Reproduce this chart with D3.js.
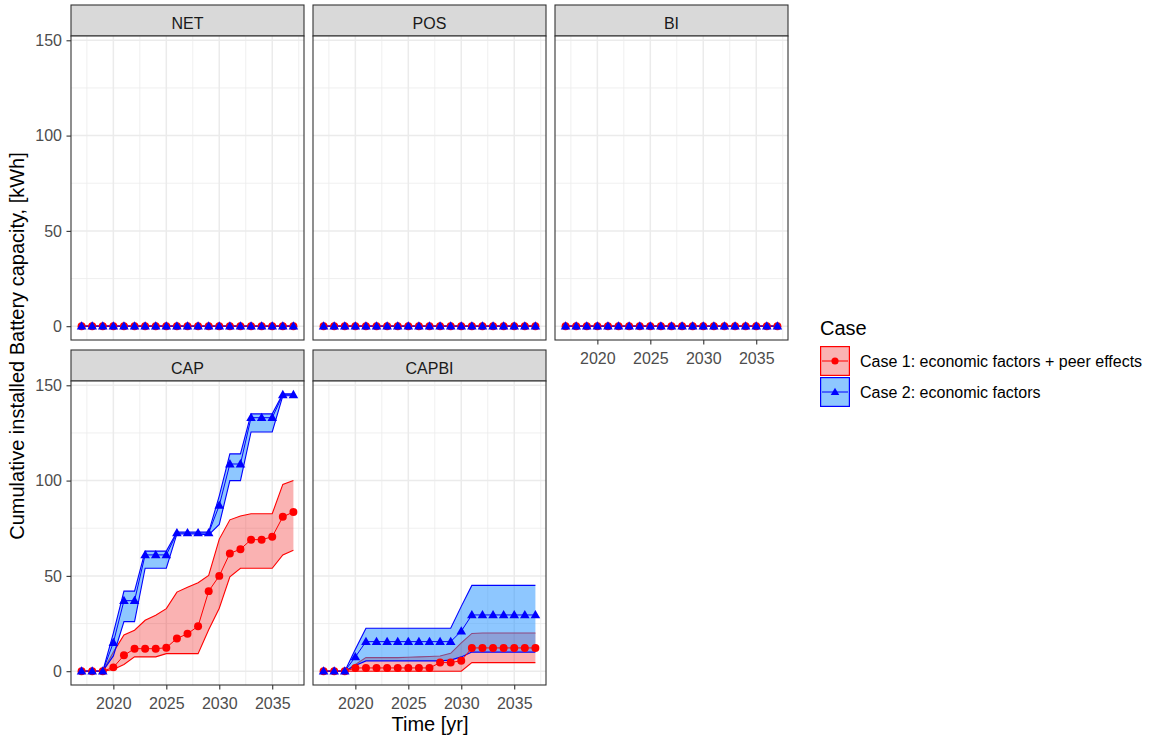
<!DOCTYPE html>
<html>
<head>
<meta charset="utf-8">
<script src="https://cdn.jsdelivr.net/npm/d3@7"></script>
<style>
  body { margin: 0; background: #ffffff; }
  svg { display: block; font-family: "Liberation Sans", Arial, Helvetica, sans-serif; }
</style>
</head>
<body>
<svg id="chart" width="1159" height="738"></svg>
<script>
// ---- data ----
const years = [2017, 2018, 2019, 2020, 2021, 2022, 2023, 2024, 2025, 2026, 2027,
               2028, 2029, 2030, 2031, 2032, 2033, 2034, 2035, 2036, 2037];
const panelNames = ["NET", "POS", "BI", "CAP", "CAPBI"];
const caseLabels = ["Case 1: economic factors + peer effects", "Case 2: economic factors"];
const xTickValues = [2020, 2025, 2030, 2035];
const yTickValues = [0, 50, 100, 150];
const xMinorValues = [2017.5, 2022.5, 2027.5, 2032.5, 2037.5];
const yMinorValues = [25, 75, 125];

// NET, POS and BI stay at zero for both cases
const zeroSeries = [0, 0, 0, 0, 0, 0, 0, 0, 0, 0, 0, 0, 0, 0, 0, 0, 0, 0, 0, 0, 0];

// CAP, case 1 (economic factors + peer effects)
const capCase1Mean  = [0, 0, 0, 2, 8.3, 11.8, 11.8, 11.8, 12.3, 17.2, 19.6, 23.6, 42, 50, 61.8, 64, 69, 69, 70.5, 81, 83.5];
const capCase1Lower = [0, 0, 0, 0.9, 3.5, 7.5, 7.5, 7.5, 9.2, 9.2, 9.2, 9.2, 21.7, 33, 49.5, 54, 54, 54, 54, 61, 63.5];
const capCase1Upper = [0, 0, 0, 10, 19, 21.5, 26.7, 29.3, 32.8, 41.5, 44, 46.4, 50.2, 69.3, 79.4, 81.4, 82.6, 82.6, 82.6, 98, 100];
// CAP, case 2 (economic factors)
const capCase2Mean  = [0, 0, 0, 15, 37, 37, 61, 61, 61, 72.5, 72.5, 72.5, 72.5, 87, 108.7, 108.7, 133, 133, 133, 145, 145];
const capCase2Lower = [0, 0, 0, 8, 26, 26, 54, 54, 54, 72, 72, 72, 71.5, 77, 100, 100, 125.5, 125.5, 125.5, 144.5, 144.5];
const capCase2Upper = [0, 0, 0, 20, 42, 42, 63, 63, 63, 73, 73, 73, 73, 92, 114, 114, 135, 135, 135, 145.5, 145.5];

// CAPBI, case 1
const capbiCase1Mean  = [0, 0, 0, 1.7, 1.7, 1.7, 1.7, 1.7, 1.7, 1.7, 1.7, 4.5, 4.5, 5.5, 12.2, 12.2, 12.2, 12.2, 12.2, 12.2, 12.2];
const capbiCase1Lower = [0, 0, 0, 0, 0, 0, 0, 0, 0, 0, 0, 0, 0, 0, 4.5, 4.5, 4.5, 4.5, 4.5, 4.5, 4.5];
const capbiCase1Upper = [0, 0, 0, 3.5, 7.1, 7.1, 7.1, 7.1, 7.3, 7.5, 7.7, 8, 9.4, 14.9, 19.8, 20, 20, 20, 20, 20, 20];
// CAPBI, case 2
const capbiCase2Mean  = [0, 0, 0, 7.5, 15.5, 15.5, 15.5, 15.5, 15.5, 15.5, 15.5, 15.5, 15.5, 21, 29.5, 29.5, 29.5, 29.5, 29.5, 29.5, 29.5];
const capbiCase2Lower = [0, 0, 0, 3, 5.4, 5.4, 5.4, 5.4, 5.4, 5.4, 5.4, 5.4, 5.8, 7.5, 10, 10, 10, 10, 10, 10, 10];
const capbiCase2Upper = [0, 0, 0, 11.5, 22.5, 22.5, 22.5, 22.5, 22.5, 22.5, 22.5, 22.5, 22.5, 34, 45, 45, 45, 45, 45, 45, 45];

// per-panel lookup: [case 1, case 2], each {mean, lower, upper}
const zeroCase = { mean: zeroSeries, lower: zeroSeries, upper: zeroSeries };
const panelSeries = {
  NET: [zeroCase, zeroCase],
  POS: [zeroCase, zeroCase],
  BI:  [zeroCase, zeroCase],
  CAP: [
    { mean: capCase1Mean, lower: capCase1Lower, upper: capCase1Upper },
    { mean: capCase2Mean, lower: capCase2Lower, upper: capCase2Upper }
  ],
  CAPBI: [
    { mean: capbiCase1Mean, lower: capbiCase1Lower, upper: capbiCase1Upper },
    { mean: capbiCase2Mean, lower: capbiCase2Lower, upper: capbiCase2Upper }
  ]
};

// ---- styling ----
const caseStyle = [
  { line: "#ff0000", fill: "rgba(240,0,0,0.3)", symbol: d3.symbolCircle, size: 50 },
  { line: "#0000ff", fill: "rgba(30,144,255,0.5)", symbol: d3.symbolTriangle, size: 40 }
];

// ---- layout ----
const colX = [71, 313, 555];
const stripTop = [5, 350];
const stripH = 31;
const panelW = 233;
const panelH = 304;

const x = d3.scaleLinear().domain([2016, 2038]).range([0, panelW]);
const y = d3.scaleLinear().domain([-7.25, 152.25]).range([panelH, 0]);

const svg = d3.select("#chart");
svg.append("rect").attr("width", 1159).attr("height", 738).attr("fill", "#ffffff");

const gridColor = "#ebebeb";
const borderColor = "#333333";
const tickTextColor = "#4d4d4d";

panelNames.forEach((name, i) => {
  const col = i % 3;
  const row = Math.floor(i / 3);
  const px = colX[col];
  const sTop = stripTop[row];
  const pTop = sTop + stripH;

  // strip
  const strip = svg.append("g").attr("transform", `translate(${px},${sTop})`);
  strip.append("rect")
    .attr("width", panelW).attr("height", stripH)
    .attr("fill", "#d9d9d9").attr("stroke", borderColor).attr("stroke-width", 1.1);
  strip.append("text")
    .attr("x", panelW / 2).attr("y", 23.5)
    .attr("text-anchor", "middle")
    .attr("font-size", 16).attr("fill", "#1a1a1a")
    .text(name);

  const g = svg.append("g").attr("transform", `translate(${px},${pTop})`);
  g.append("rect").attr("width", panelW).attr("height", panelH).attr("fill", "#ffffff");

  // grid
  g.selectAll(".gx-minor").data(xMinorValues).enter().append("line")
    .attr("x1", d => x(d)).attr("x2", d => x(d)).attr("y1", 0).attr("y2", panelH)
    .attr("stroke", gridColor).attr("stroke-width", 0.8);
  g.selectAll(".gy-minor").data(yMinorValues).enter().append("line")
    .attr("y1", d => y(d)).attr("y2", d => y(d)).attr("x1", 0).attr("x2", panelW)
    .attr("stroke", gridColor).attr("stroke-width", 0.8);
  g.selectAll(".gx-major").data(xTickValues).enter().append("line")
    .attr("x1", d => x(d)).attr("x2", d => x(d)).attr("y1", 0).attr("y2", panelH)
    .attr("stroke", gridColor).attr("stroke-width", 1.5);
  g.selectAll(".gy-major").data(yTickValues).enter().append("line")
    .attr("y1", d => y(d)).attr("y2", d => y(d)).attr("x1", 0).attr("x2", panelW)
    .attr("stroke", gridColor).attr("stroke-width", 1.5);

  const series = panelSeries[name];

  // ribbons: fill then upper/lower outline, one case after the other
  series.forEach((s, k) => {
    const st = caseStyle[k];
    const pts = years.map((yr, j) => ({ yr, lo: s.lower[j], hi: s.upper[j] }));
    g.append("path")
      .attr("d", d3.area().x(d => x(d.yr)).y0(d => y(d.lo)).y1(d => y(d.hi))(pts))
      .attr("fill", st.fill).attr("stroke", "none");
    g.append("path")
      .attr("d", d3.line().x(d => x(d.yr)).y(d => y(d.hi))(pts))
      .attr("fill", "none").attr("stroke", st.line).attr("stroke-width", 1.1);
    g.append("path")
      .attr("d", d3.line().x(d => x(d.yr)).y(d => y(d.lo))(pts))
      .attr("fill", "none").attr("stroke", st.line).attr("stroke-width", 1.1);
  });

  // mean lines
  series.forEach((s, k) => {
    const pts = years.map((yr, j) => ({ yr, v: s.mean[j] }));
    g.append("path")
      .attr("d", d3.line().x(d => x(d.yr)).y(d => y(d.v))(pts))
      .attr("fill", "none").attr("stroke", caseStyle[k].line).attr("stroke-width", 1);
  });

  // points
  series.forEach((s, k) => {
    const st = caseStyle[k];
    const pts = years.map((yr, j) => ({ yr, v: s.mean[j] }));
    g.selectAll(null).data(pts).enter().append("path")
      .attr("transform", d => `translate(${x(d.yr)},${y(d.v) + (k === 1 ? 0.6 : 0)})`)
      .attr("d", d3.symbol().type(st.symbol).size(st.size))
      .attr("fill", st.line);
  });

  // panel border
  g.append("rect")
    .attr("width", panelW).attr("height", panelH)
    .attr("fill", "none").attr("stroke", borderColor).attr("stroke-width", 1.1);

  // y axis on the left column
  if (col === 0) {
    const ay = g.append("g").call(
      d3.axisLeft(y).tickValues(yTickValues).tickSize(4.5).tickPadding(4.5).tickFormat(d3.format("d"))
    );
    ay.select(".domain").remove();
    ay.selectAll(".tick line").attr("stroke", borderColor).attr("stroke-width", 1.1);
    ay.selectAll(".tick text")
      .attr("fill", tickTextColor).attr("font-size", 16)
      .attr("font-family", "'Liberation Sans', Arial, sans-serif");
  }

  // x axis on panels with nothing below
  if (row === 1 || name === "BI") {
    const ax = g.append("g").attr("transform", `translate(0,${panelH})`).call(
      d3.axisBottom(x).tickValues(xTickValues).tickSize(4.5).tickPadding(8).tickFormat(d3.format("d"))
    );
    ax.select(".domain").remove();
    ax.selectAll(".tick line").attr("stroke", borderColor).attr("stroke-width", 1.1);
    ax.selectAll(".tick text")
      .attr("fill", tickTextColor).attr("font-size", 16)
      .attr("font-family", "'Liberation Sans', Arial, sans-serif");
  }
});

// axis titles
svg.append("text")
  .attr("x", 430).attr("y", 731)
  .attr("text-anchor", "middle").attr("font-size", 20).attr("fill", "#000000")
  .text("Time [yr]");

svg.append("text")
  .attr("transform", "translate(24,346) rotate(-90)")
  .attr("text-anchor", "middle").attr("font-size", 20).attr("fill", "#000000")
  .text("Cumulative installed Battery capacity, [kWh]");

// legend
const legend = svg.append("g").attr("transform", "translate(820,0)");
legend.append("text")
  .attr("x", 0).attr("y", 335)
  .attr("font-size", 20).attr("fill", "#000000")
  .text("Case");

const keyTop = [346, 377];
const keyW = 30, keyH = 30;
caseLabels.forEach((label, k) => {
  const st = caseStyle[k];
  const kg = legend.append("g").attr("transform", `translate(0,${keyTop[k]})`);
  kg.append("rect")
    .attr("x", 0.6).attr("y", 0.6).attr("width", keyW - 1.2).attr("height", keyH - 1.2)
    .attr("fill", st.fill).attr("stroke", st.line).attr("stroke-width", 1.2);
  kg.append("line")
    .attr("x1", 2).attr("x2", keyW - 2).attr("y1", keyH / 2).attr("y2", keyH / 2)
    .attr("stroke", st.line).attr("stroke-width", 1);
  kg.append("path")
    .attr("transform", `translate(${keyW / 2},${keyH / 2 + (k === 1 ? 0.6 : 0)})`)
    .attr("d", d3.symbol().type(st.symbol).size(st.size * 0.8))
    .attr("fill", st.line);
  kg.append("text")
    .attr("x", 40).attr("y", keyH / 2 + 6)
    .attr("font-size", 16).attr("fill", "#000000")
    .text(label);
});
</script>
</body>
</html>
